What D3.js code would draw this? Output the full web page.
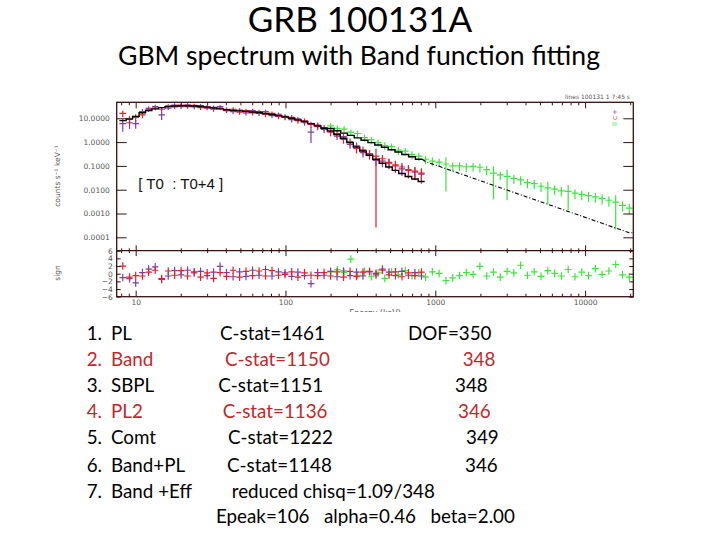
<!DOCTYPE html>
<html>
<head>
<meta charset="utf-8">
<script src="https://cdn.jsdelivr.net/npm/d3@7"></script>
<style>
body { margin: 0; background: #fff; }
svg { display: block; }
.axis text { font-family: "DejaVu Sans", sans-serif; font-size: 7.5px; fill: #555; }
.axis line { stroke: #3a1010; stroke-width: 1; }
.slide { font-family: Lato, "Open Sans", sans-serif; }
</style>
</head>
<body>
<svg width="720" height="540"></svg>
<script>
// ---- data ----
// NaI detectors (purple, red): bin centres in keV
var naiEnergy = [8.2, 9.1, 10.0, 11.1, 12.2, 13.5, 14.9, 16.5, 18.2, 20.1, 22.2, 24.6, 27.1, 30.0, 33.1, 36.6, 40.4, 44.7, 49.4, 54.5, 60.3, 66.6, 73.6, 81.3, 89.8, 99.3, 110, 121, 134, 148, 164, 181, 200, 221, 244, 270, 298, 329, 364, 402, 444, 491, 542, 599, 662, 731, 808];
var naiModel = [8.0, 9.5, 12, 17, 21, 25, 28, 31, 33, 33.5, 33.5, 33, 31.5, 29.5, 27, 25, 23, 21.5, 20.5, 19.5, 18.5, 17.5, 16, 14.5, 13, 11.5, 10, 8.6, 7.3, 6, 4.8, 3.8, 2.9, 2.1, 1.45, 0.95, 0.62, 0.42, 0.28, 0.19, 0.13, 0.09, 0.065, 0.048, 0.036, 0.028, 0.022];

var purpleRate = [6.0, 6.5, 6.0, 19, 26, 31, 14, 27, 36, 31, 37, 30, 34, 27, 29, 31, 24, 19, 22, 17, 21, 16, 19, 13, 14.5, 12, 8.8, 9.4, 6.5, 2.6, 5.2, 3.4, 3.2, 1.8, 1.7, 0.8, 0.7, 0.36, 0.31, 0.17, 0.16, 0.13, 0.1, 0.075, 0.07, 0.055, 0.045];
var purpleErr = [0.55, 0.45, 0.4, 0.3, 0.22, 0.2, 0.4, 0.18, 0.18, 0.2, 0.18, 0.2, 0.18, 0.2, 0.2, 0.18, 0.2, 0.22, 0.2, 0.22, 0.2, 0.22, 0.2, 0.22, 0.22, 0.24, 0.25, 0.25, 0.26, 0.65, 0.28, 0.3, 0.3, 0.32, 0.33, 0.35, 0.36, 0.38, 0.4, 0.42, 0.45, 0.45, 0.5, 0.5, 0.55, 0.55, 0.6];
var purpleRes = [-1.0, -1.3, -2.4, 0.3, 1.2, 1.8, -1.5, -0.6, 0.8, -0.3, 0.9, 0.2, 0.6, -0.5, 0.4, 1.9, 0.3, -0.8, 0.5, -0.7, 0.9, -0.4, 1.1, -0.6, 0.5, 0.2, -0.7, 0.4, -0.5, -2.6, 0.3, -0.4, 0.6, -0.8, 0.7, -0.5, 0.4, -0.6, 0.5, -0.3, 1.2, 0.4, -0.5, 0.6, -0.4, 0.3, -0.6];

var redRate = [16, 9, 11, 14, 23, 27, 24, 33, 30, 36, 31, 35, 28, 31, 24, 27, 21, 24, 18, 21, 17, 19, 14.5, 16, 12, 11, 11, 8, 7.8, 5.6, 4.5, 4.1, 2.6, 2.3, 1.3, 1.05, 0.55, 0.47, 0.33, 0.26, 0.2, 0.14, 0.11, 0.09, 0.065, 0.06, 0.05];
var redErr = [0.3, 0.4, 0.35, 0.28, 0.2, 0.2, 0.2, 0.17, 0.18, 0.17, 0.19, 0.18, 0.2, 0.18, 0.21, 0.19, 0.2, 0.2, 0.22, 0.2, 0.22, 0.21, 0.23, 0.22, 0.24, 0.24, 0.25, 0.27, 0.26, 0.28, 0.3, 0.29, 0.32, 0.33, 0.35, 0.36, 0.4, 0.38, 0.42, 0.999, 0.44, 0.46, 0.48, 0.5, 0.55, 0.52, 0.6];
var redRes = [2.0, -0.9, -0.5, -0.6, 0.4, 0.9, -1.3, 0.7, -0.4, 0.8, -0.6, 0.5, -0.9, 0.2, -1.2, 0.3, -0.7, 0.9, -0.9, 0.6, -0.5, 0.7, -0.6, 0.8, -0.4, -0.2, 0.5, -0.9, 0.2, -0.4, -0.5, 0.3, -0.6, 0.5, -0.9, 0.6, -0.7, 0.4, 0.6, 0.1, 0.9, -0.3, 0.5, -0.8, 0.2, -0.5, 0.4];

// BGO detector (green)
var bgoEnergy = [200, 222, 246, 273, 303, 337, 374, 415, 460, 511, 567, 630, 699, 776, 861, 956, 1061, 1178, 1308, 1452, 1611, 1789, 1985, 2204, 2446, 2715, 3014, 3346, 3714, 4122, 4576, 5079, 5638, 6258, 6946, 7711, 8559, 9500, 10545, 11705, 12993, 14422, 16008, 17769, 19724];
var bgoModel = [3.78, 3.0, 2.39, 1.91, 1.51, 1.2, 0.953, 0.757, 0.604, 0.48, 0.382, 0.303, 0.241, 0.191, 0.152, 0.121, 0.0962, 0.0762, 0.0607, 0.0482, 0.0384, 0.0305, 0.0243, 0.0192, 0.0153, 0.0122, 0.00967, 0.00769, 0.00611, 0.00486, 0.00387, 0.00307, 0.00244, 0.00194, 0.00154, 0.00122, 0.000973, 0.000774, 0.000614, 0.000489, 0.000388, 0.000308, 0.000245, 0.000195, 0.000155];
var greenRate = [4.8, 3.8, 3.5, 2.6, 2.3, 1.55, 1.25, 0.95, 0.72, 0.64, 0.46, 0.42, 0.3, 0.26, 0.19, 0.16, 0.145, 0.12, 0.1, 0.1, 0.092, 0.095, 0.088, 0.07, 0.05, 0.042, 0.036, 0.03, 0.026, 0.02, 0.018, 0.014, 0.012, 0.0105, 0.009, 0.0085, 0.0072, 0.0064, 0.0056, 0.005, 0.0043, 0.0036, 0.003, 0.0022, 0.0017];
var greenErr = [0.3, 0.3, 0.32, 0.3, 0.33, 0.32, 0.35, 0.34, 0.36, 0.35, 0.37, 0.36, 0.38, 0.37, 0.38, 0.4, 0.38, 0.93, 0.4, 0.39, 0.4, 0.38, 0.4, 0.41, 0.92, 0.4, 0.9, 0.42, 0.4, 0.42, 0.41, 0.43, 0.8, 0.42, 0.43, 0.84, 0.44, 0.43, 0.45, 0.44, 0.45, 0.46, 0.93, 0.45, 0.46];
var greenRes = [0.5, 1.0, 0.3, 3.8, -0.4, 0.6, -0.8, 0.2, -1.2, 0.4, -0.3, 0.8, -0.5, 0.2, -0.9, 0.5, 0.1, -1.8, -1.1, -0.5, 0.3, -0.2, 1.9, -0.6, 0.4, -0.9, 0.6, 0.2, 2.2, -0.4, 0.5, -0.7, 0.8, 0.1, -0.6, 1.1, -0.8, 0.4, -0.5, 1.3, -0.2, 0.7, 2.4, -0.3, -0.9];

// tick labels
var rateTicks = [10, 1, 0.1, 0.01, 0.001, 0.0001];
var rateTickLabels = ["10.0000", "1.0000", "0.1000", "0.0100", "0.0010", "0.0001"];
var resTicks = [6, 4, 2, 0, -2, -4, -6];
var energyTicks = [10, 100, 1000, 10000];

// slide text
var fitNames = ["PL", "Band", "SBPL", "PL2", "Comt", "Band+PL", "Band +Eff"];
var fitStats = ["C-stat=1461", "C-stat=1150", "C-stat=1151", "C-stat=1136", "C-stat=1222", "C-stat=1148", "reduced chisq=1.09/348"];
var fitDof = ["DOF=350", "348", "348", "346", "349", "346", ""];
var fitHighlight = [false, true, false, true, false, false, false];
var bandParams = "Epeak=106   alpha=0.46   beta=2.00";

// ---- layout ----
var svg = d3.select("svg");
var frameColor = "#3a1010";
var pLeft = 116.7, pRight = 633.3, pTop = 102.3, pMid = 250.7, pBottom = 296.7;

var x = d3.scaleLog().domain([7.47, 20980]).range([pLeft, pRight]);
var y = d3.scaleLog().domain([2.74e-5, 47]).range([pMid, pTop]);
var r = d3.scaleLinear().domain([-6, 6]).range([pBottom, pMid]);
var yMin = y.domain()[0];

var defs = svg.append("defs");
defs.append("clipPath").attr("id", "clipTop").append("rect")
  .attr("x", pLeft).attr("y", pTop).attr("width", pRight - pLeft).attr("height", pMid - pTop);
defs.append("clipPath").attr("id", "clipBot").append("rect")
  .attr("x", pLeft).attr("y", pMid).attr("width", pRight - pLeft).attr("height", pBottom - pMid);
defs.append("clipPath").attr("id", "clipImg").append("rect")
  .attr("x", 0).attr("y", 0).attr("width", 720).attr("height", 312);

// bin edges half way (in log) between neighbouring centres
function edges(E) {
  var e = [];
  for (var i = 0; i <= E.length; i++) {
    if (i == 0) e.push(E[0] * Math.sqrt(E[0] / E[1]));
    else if (i == E.length) e.push(E[i-1] * Math.sqrt(E[i-1] / E[i-2]));
    else e.push(Math.sqrt(E[i-1] * E[i]));
  }
  return e;
}

function drawSpec(E, rate, frac, res, color) {
  var ed = edges(E);
  var pts = E.map(function(e, i) {
    return {e: e, lo: ed[i], hi: ed[i+1], v: rate[i], err: rate[i] * frac[i], res: res[i]};
  });
  var g = svg.append("g").attr("stroke", color).attr("stroke-width", 1.2)
    .attr("clip-path", "url(#clipTop)");
  g.selectAll(null).data(pts).enter().append("line")
    .attr("x1", d => x(d.lo)).attr("x2", d => x(d.hi))
    .attr("y1", d => y(d.v)).attr("y2", d => y(d.v));
  g.selectAll(null).data(pts).enter().append("line")
    .attr("x1", d => x(d.e)).attr("x2", d => x(d.e))
    .attr("y1", d => y(Math.max(d.v - d.err, yMin))).attr("y2", d => y(d.v + d.err));

  var gr = svg.append("g").attr("stroke", color).attr("stroke-width", 1.2)
    .attr("clip-path", "url(#clipBot)");
  gr.selectAll(null).data(pts).enter().append("line")
    .attr("x1", d => x(d.lo)).attr("x2", d => x(d.hi))
    .attr("y1", d => r(d.res)).attr("y2", d => r(d.res));
  gr.selectAll(null).data(pts).enter().append("line")
    .attr("x1", d => x(d.e)).attr("x2", d => x(d.e))
    .attr("y1", d => r(d.res - 1)).attr("y2", d => r(d.res + 1));
}

drawSpec(bgoEnergy, greenRate, greenErr, greenRes, "#3be63b");
drawSpec(naiEnergy, purpleRate, purpleErr, purpleRes, "#7d3fa3");
drawSpec(naiEnergy, redRate, redErr, redRes, "#e5202b");

// model curves
function stepPoints(E, m, from, to) {
  var ed = edges(E), p = [];
  for (var i = from; i < to; i++) { p.push([ed[i], m[i]]); p.push([ed[i+1], m[i]]); }
  return p;
}
var modelLine = d3.line().x(d => x(d[0])).y(d => y(d[1]));
var gm = svg.append("g").attr("clip-path", "url(#clipTop)").attr("fill", "none").attr("stroke", "#000");
gm.append("path").attr("d", modelLine(stepPoints(naiEnergy, naiModel, 0, naiEnergy.length)))
  .attr("stroke-width", 1.4);
gm.append("path").attr("d", modelLine(stepPoints(bgoEnergy, bgoModel, 0, 14)))
  .attr("stroke-width", 1.4);
var bgoEdges = edges(bgoEnergy);
var tail = [[bgoEdges[14], bgoModel[13]]].concat(bgoEnergy.slice(14).map((e, i) => [e, bgoModel[i + 14]]));
tail.push([bgoEdges[bgoEnergy.length], bgoModel[bgoEnergy.length - 1]]);
gm.append("path").attr("d", modelLine(tail))
  .attr("stroke-width", 1.1).attr("stroke-dasharray", "4,2,1,2");

// frame
svg.append("rect").attr("x", pLeft).attr("y", pTop).attr("width", pRight - pLeft).attr("height", pBottom - pTop)
  .attr("fill", "none").attr("stroke", frameColor).attr("stroke-width", 1.3);
svg.append("line").attr("x1", pLeft).attr("x2", pRight).attr("y1", pMid).attr("y2", pMid)
  .attr("stroke", frameColor).attr("stroke-width", 1.3);

// axes
var minor = x.ticks().filter(d => energyTicks.indexOf(d) < 0);
function tidy(g) { g.select(".domain").remove(); }

svg.append("g").attr("class", "axis").attr("transform", "translate(" + pLeft + ",0)")
  .call(d3.axisLeft(y).tickValues(rateTicks).tickFormat((d, i) => rateTickLabels[i]).tickSize(-10).tickPadding(7))
  .call(tidy);
svg.append("g").attr("class", "axis").attr("transform", "translate(" + pRight + ",0)")
  .call(d3.axisRight(y).tickValues(rateTicks).tickFormat("").tickSize(-10))
  .call(tidy);
svg.append("g").attr("class", "axis").attr("transform", "translate(" + pLeft + ",0)")
  .call(d3.axisLeft(r).tickValues(resTicks).tickSize(-4).tickPadding(4))
  .call(tidy);
svg.append("g").attr("class", "axis").attr("transform", "translate(" + pRight + ",0)")
  .call(d3.axisRight(r).tickValues(resTicks).tickFormat("").tickSize(-4))
  .call(tidy);

// top edge
svg.append("g").attr("class", "axis").attr("transform", "translate(0," + pTop + ")")
  .call(d3.axisTop(x).tickValues(minor).tickFormat("").tickSize(-3)).call(tidy);
svg.append("g").attr("class", "axis").attr("transform", "translate(0," + pTop + ")")
  .call(d3.axisTop(x).tickValues(energyTicks).tickFormat("").tickSize(-6)).call(tidy);
// panel divider, ticks both ways
[3, -3].forEach(function(s) {
  svg.append("g").attr("class", "axis").attr("transform", "translate(0," + pMid + ")")
    .call(d3.axisTop(x).tickValues(minor).tickFormat("").tickSize(s * 0.8)).call(tidy);
  svg.append("g").attr("class", "axis").attr("transform", "translate(0," + pMid + ")")
    .call(d3.axisTop(x).tickValues(energyTicks).tickFormat("").tickSize(s * 1.8)).call(tidy);
});
// bottom edge with labels
svg.append("g").attr("class", "axis").attr("transform", "translate(0," + pBottom + ")")
  .call(d3.axisBottom(x).tickValues(minor).tickFormat("").tickSize(-3)).call(tidy);
svg.append("g").attr("class", "axis").attr("transform", "translate(0," + pBottom + ")")
  .call(d3.axisBottom(x).tickValues(energyTicks).tickFormat(d3.format("d")).tickSize(-6).tickPadding(3))
  .call(tidy);

// axis titles
var gImg = svg.append("g").attr("clip-path", "url(#clipImg)")
  .attr("font-family", "DejaVu Sans, sans-serif").attr("fill", "#555");
gImg.append("text").attr("x", 375).attr("y", 316).attr("text-anchor", "middle")
  .attr("font-size", 8).text("Energy (keV)");
gImg.append("text").attr("transform", "translate(60,176) rotate(-90)").attr("text-anchor", "middle")
  .attr("font-size", 7.5).text("counts s\u207B\u00B9 keV\u207B\u00B9");
gImg.append("text").attr("transform", "translate(60,273) rotate(-90)").attr("text-anchor", "middle")
  .attr("font-size", 7.5).text("sign");
gImg.append("text").attr("x", 630).attr("y", 99).attr("text-anchor", "end")
  .attr("font-size", 6).text("lines  100131  1 7:45 s");
// detector legend
[["+", "#7d3fa3", 112], ["c", "#e5202b", 118], ["II", "#3be63b", 124]].forEach(function(l) {
  gImg.append("text").attr("transform", "translate(617," + l[2] + ") rotate(-90)")
    .attr("text-anchor", "middle").attr("font-size", 7).attr("fill", l[1]).text(l[0]);
});

svg.append("text").attr("x", 138.3).attr("y", 189.3)
  .attr("font-family", "Liberation Sans, Arial, sans-serif").attr("font-size", 15).attr("fill", "#111")
  .style("white-space", "pre").text("[ T0  : T0+4 ]");

// ---- slide text ----
var slide = svg.append("g").attr("class", "slide");
slide.append("text").attr("x", 360).attr("y", 32.3).attr("text-anchor", "middle")
  .attr("font-size", 35).text("GRB 100131A");
slide.append("text").attr("x", 359).attr("y", 65).attr("text-anchor", "middle")
  .attr("font-size", 26.6).text("GBM spectrum with Band function fitting");

var rowY = [340, 365.7, 392.3, 418.3, 444.3, 471.7, 497.7];
var statX = [220, 225, 218.3, 222.7, 228, 227, 231.7];
var dofX = [408, 462.7, 455, 458, 466, 465, 0];
fitNames.forEach(function(name, i) {
  var col = fitHighlight[i] ? "#c0282c" : "#000";
  var g = slide.append("g").attr("fill", col).attr("font-size", 18.8);
  g.append("text").attr("x", 86.7).attr("y", rowY[i]).text((i + 1) + ".");
  g.append("text").attr("x", 111).attr("y", rowY[i]).text(name);
  g.append("text").attr("x", statX[i]).attr("y", rowY[i]).text(fitStats[i]);
  if (fitDof[i]) g.append("text").attr("x", dofX[i]).attr("y", rowY[i]).text(fitDof[i]);
});
slide.append("text").attr("x", 216).attr("y", 523.3).attr("font-size", 18.8)
  .style("white-space", "pre").text(bandParams);
</script>
</body>
</html>
